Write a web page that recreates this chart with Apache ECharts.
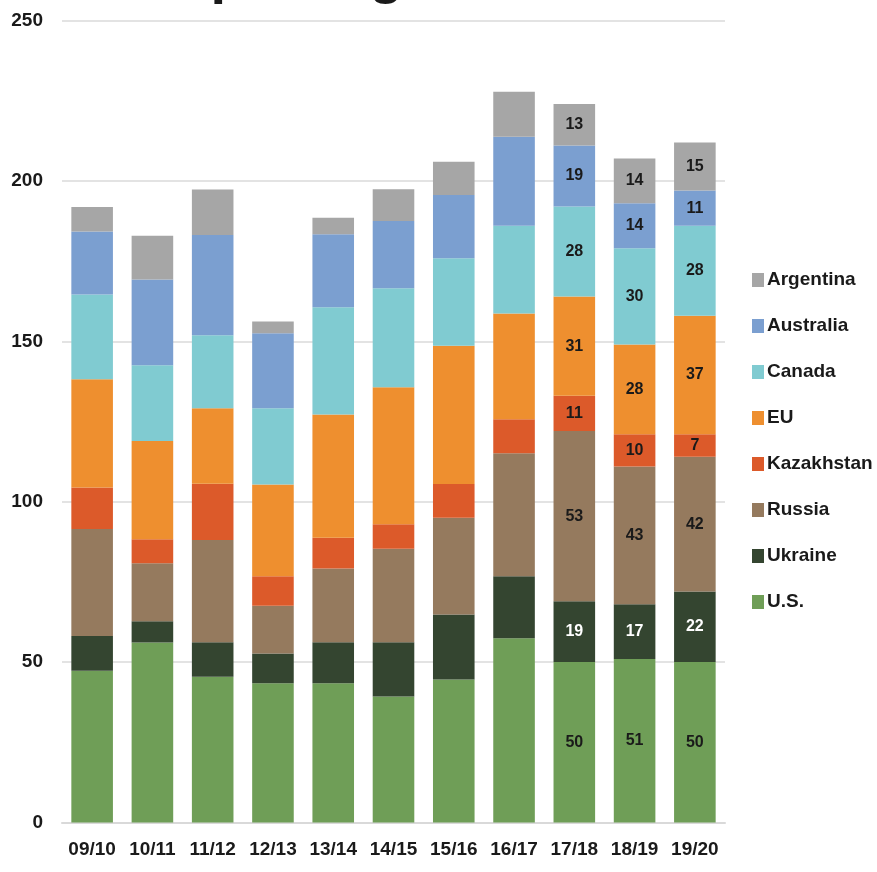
<!DOCTYPE html>
<html>
<head>
<meta charset="utf-8">
<script src="https://cdn.jsdelivr.net/npm/echarts@6/dist/echarts.min.js"></script>
<style>
html,body{margin:0;padding:0;background:#fff;}
#chart{width:877px;height:872px;}
</style>
</head>
<body>
<div id="chart"></div>
<script>
const categories = ['09/10','10/11','11/12','12/13','13/14','14/15','15/16','16/17','17/18','18/19','19/20'];
const us         = [47.3, 56.1, 45.4, 43.4, 43.4, 39.3, 44.6, 57.4, 50, 51, 50];
const ukraine    = [10.8,  6.6, 10.8,  9.3, 12.8, 16.9, 20.2, 19.4, 19, 17, 22];
const russia     = [33.4, 18.1, 31.9, 14.9, 23.0, 29.1, 30.2, 38.3, 53, 43, 42];
const kazakhstan = [12.9,  7.5, 17.5,  9.2,  9.6,  7.7, 10.5, 10.6, 11, 10,  7];
const eu         = [33.8, 30.6, 23.5, 28.6, 38.4, 42.7, 43.1, 33.0, 31, 28, 37];
const canada     = [26.4, 23.6, 22.8, 23.7, 33.4, 30.8, 27.3, 27.3, 28, 30, 28];
const australia  = [19.6, 26.8, 31.2, 23.4, 22.8, 21.0, 19.7, 27.8, 19, 14, 11];
const argentina  = [ 7.7, 13.6, 14.2,  3.7,  5.1,  9.9, 10.4, 14.0, 13, 14, 15];
const yTicks = [0, 50, 100, 150, 200, 250];
const legendOrder = ['Argentina','Australia','Canada','EU','Kazakhstan','Russia','Ukraine','U.S.'];

const FONT = "'Liberation Sans', Arial, sans-serif";
const labeledFrom = 8;

function mk(name, values, color, labelColor) {
  return {
    name: name,
    type: 'bar',
    stack: 'total',
    barCategoryGap: '31%',
    itemStyle: { color: color },
    label: {
      show: false,
      position: 'inside',
      color: labelColor,
      fontFamily: FONT,
      fontWeight: 'bold',
      fontSize: 16
    },
    data: values.map((v, i) => i >= labeledFrom ? { value: v, label: { show: true } } : v)
  };
}

const chart = echarts.init(document.getElementById('chart'));
chart.setOption({
  animation: false,
  backgroundColor: '#ffffff',
  title: {
    text: 'Exporting Countries',
    left: 137,
    top: -56,
    textStyle: { fontFamily: FONT, fontWeight: 'bold', fontSize: 56, color: '#1a1a1a' }
  },
  grid: { left: 62, right: 152, top: 20.5, bottom: 49.5, containLabel: false, outerBoundsMode: 'none' },
  legend: {
    orient: 'vertical',
    left: 752,
    top: 268,
    padding: 0,
    itemWidth: 12,
    itemHeight: 14,
    itemGap: 22,
    icon: 'rect',
    data: legendOrder,
    textStyle: { fontFamily: FONT, fontWeight: 'bold', fontSize: 19, color: '#1a1a1a', lineHeight: 24, padding: [0, 0, 0, -2] }
  },
  xAxis: {
    type: 'category',
    data: categories,
    axisLine: { show: true, lineStyle: { color: '#d9d9d9', width: 2 } },
    axisTick: { show: false },
    axisLabel: { interval: 0, fontFamily: FONT, fontSize: 19, color: '#1a1a1a', margin: 18, fontWeight: 'bold' }
  },
  yAxis: {
    type: 'value',
    min: 0,
    max: 250,
    interval: 50,
    axisLine: { show: false },
    axisTick: { show: false },
    splitLine: { lineStyle: { color: '#e3e3e3', width: 2 } },
    axisLabel: {
      fontFamily: FONT, fontSize: 19, color: '#1a1a1a', margin: 19, fontWeight: 'bold',
      customValues: yTicks
    }
  },
  series: [
    mk('U.S.', us, '#6f9e57', '#1a1a1a'),
    mk('Ukraine', ukraine, '#344530', '#ffffff'),
    mk('Russia', russia, '#957a5e', '#1a1a1a'),
    mk('Kazakhstan', kazakhstan, '#dc5a2a', '#1a1a1a'),
    mk('EU', eu, '#ee8f2f', '#1a1a1a'),
    mk('Canada', canada, '#80cbd1', '#1a1a1a'),
    mk('Australia', australia, '#7b9fd0', '#1a1a1a'),
    mk('Argentina', argentina, '#a6a6a6', '#1a1a1a')
  ]
});
</script>
</body>
</html>
